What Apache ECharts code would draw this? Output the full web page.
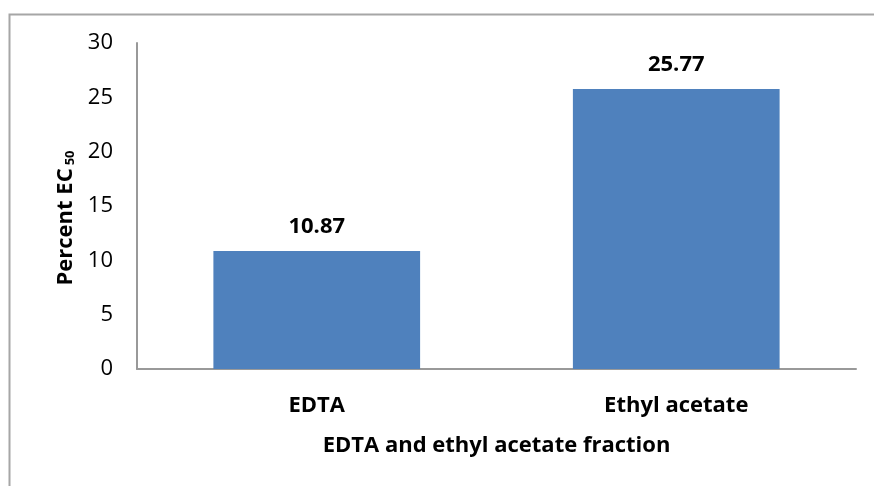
<!DOCTYPE html>
<html>
<head>
<meta charset="utf-8">
<script src="https://cdn.jsdelivr.net/npm/echarts@6/dist/echarts.min.js"></script>
<style>
  html, body { margin: 0; padding: 0; background: #fff; }
  #chart { width: 874px; height: 486px; }
</style>
</head>
<body>
<div id="chart"></div>
<script>
var categories = ['EDTA', 'Ethyl acetate'];
var values = [10.87, 25.77];
var valueLabels = ['10.87', '25.77'];

var chart = echarts.init(document.getElementById('chart'));
var font = '"Open Sans", "Liberation Sans", sans-serif';

var option = {
    animation: false,
    backgroundColor: '#fff',
    graphic: [{
        type: 'rect',
        shape: { x: 9.5, y: 14.5, width: 900, height: 500 },
        style: { fill: 'none', stroke: '#a6a6a6', lineWidth: 2 },
        silent: true
    }],
    grid: { left: 137, right: 18, top: 43, bottom: 117 },
    xAxis: {
        type: 'category',
        data: categories,
        name: 'EDTA and ethyl acetate fraction',
        nameLocation: 'middle',
        nameGap: 66,
        nameTextStyle: { fontFamily: font, fontWeight: 'bold', fontSize: 22, color: '#000' },
        axisLine: { lineStyle: { color: '#999', width: 2 } },
        axisTick: { show: false },
        axisLabel: { margin: 26, fontFamily: font, fontWeight: 'bold', fontSize: 22, color: '#000' }
    },
    yAxis: {
        type: 'value',
        min: 0,
        max: 30,
        interval: 5,
        name: '{main|Percent EC}{sub|50}',
        nameLocation: 'middle',
        nameGap: 60,
        nameTextStyle: {
            padding: [0, 24, 0, 0],
            rich: {
                main: { fontFamily: font, fontWeight: 'bold', fontSize: 22, color: '#000' },
                sub: { fontFamily: font, fontWeight: 'bold', fontSize: 13, color: '#000', padding: [10, 0, 0, 3] }
            }
        },
        axisLine: { show: true, lineStyle: { color: '#999', width: 2 } },
        axisTick: { show: false },
        splitLine: { show: false },
        axisLabel: { margin: 24, fontFamily: font, fontSize: 22, color: '#000' }
    },
    series: [{
        type: 'bar',
        data: values,
        barWidth: '57.5%',
        itemStyle: { color: '#4f81bd' },
        label: {
            show: true,
            position: 'top',
            distance: 13,
            fontFamily: font,
            fontWeight: 'bold',
            fontSize: 22,
            color: '#000',
            formatter: function (p) { return valueLabels[p.dataIndex]; }
        }
    }]
};
chart.setOption(option);
</script>
</body>
</html>
